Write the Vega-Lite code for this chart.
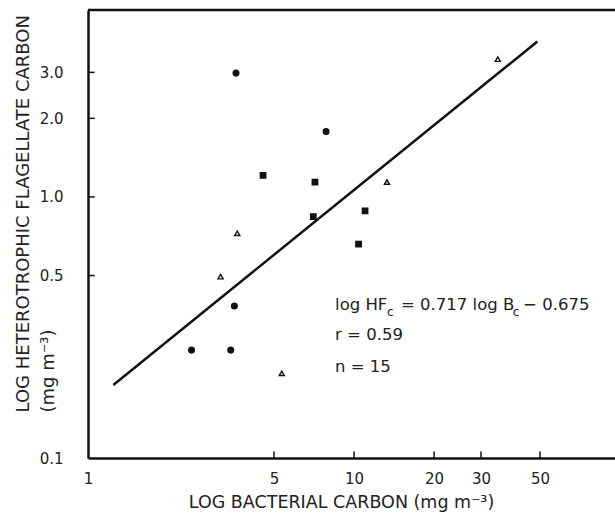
{
  "$schema": "https://vega.github.io/schema/vega-lite/v6.json",
  "width": 527,
  "height": 448,
  "autosize": {"type": "none"},
  "padding": {"left": 88, "top": 10, "right": 0, "bottom": 55},
  "background": "white",
  "config": {
    "view": {"stroke": null},
    "axis": {
      "grid": false,
      "ticks": false,
      "domainColor": "#111111",
      "domainWidth": 2.5,
      "labelColor": "#222222",
      "titleColor": "#222222",
      "labelFont": "DejaVu Sans",
      "titleFont": "DejaVu Sans",
      "titleFontWeight": "normal",
      "labelFontSize": 15,
      "titleFontSize": 17.5,
      "labelFlush": false,
      "labelOverlap": false
    },
    "text": {"font": "DejaVu Sans", "color": "#222222"}
  },
  "datasets": {
    "points": [
      {"group": "circle", "bacterialC": 3.60, "flagellateC": 2.98},
      {"group": "circle", "bacterialC": 7.85, "flagellateC": 1.78},
      {"group": "circle", "bacterialC": 3.55, "flagellateC": 0.382},
      {"group": "circle", "bacterialC": 2.45, "flagellateC": 0.259},
      {"group": "circle", "bacterialC": 3.44, "flagellateC": 0.259},
      {"group": "square", "bacterialC": 4.55, "flagellateC": 1.21},
      {"group": "square", "bacterialC": 7.13, "flagellateC": 1.14},
      {"group": "square", "bacterialC": 7.03, "flagellateC": 0.84},
      {"group": "square", "bacterialC": 11.0, "flagellateC": 0.884},
      {"group": "square", "bacterialC": 10.4, "flagellateC": 0.659},
      {"group": "triangle", "bacterialC": 34.7, "flagellateC": 3.37},
      {"group": "triangle", "bacterialC": 13.3, "flagellateC": 1.14},
      {"group": "triangle", "bacterialC": 3.64, "flagellateC": 0.726},
      {"group": "triangle", "bacterialC": 3.15, "flagellateC": 0.495},
      {"group": "triangle", "bacterialC": 5.35, "flagellateC": 0.211}
    ],
    "fit": [
      {"bacterialC": 1.245, "flagellateC": 0.1905},
      {"bacterialC": 48.9, "flagellateC": 3.94}
    ],
    "xticks": [{"v": 5}, {"v": 10}, {"v": 20}, {"v": 30}, {"v": 50}],
    "yticks": [{"v": 0.5}, {"v": 1}, {"v": 2}, {"v": 3}]
  },
  "layer": [
    {
      "data": {"name": "points"},
      "mark": {"type": "point", "stroke": "#111111", "strokeWidth": 1.4, "opacity": 1},
      "encoding": {
        "x": {
          "field": "bacterialC",
          "type": "quantitative",
          "scale": {"type": "log", "domain": [1, 95.7], "nice": false},
          "axis": {
            "values": [1, 5, 10, 20, 30, 50],
            "format": "d",
            "labelPadding": 13,
            "labelBaseline": "top",
            "title": "LOG BACTERIAL CARBON (mg m⁻³)",
            "titleX": 253,
            "titleY": 49,
            "titleBaseline": "alphabetic",
            "titleAlign": "center"
          }
        },
        "y": {
          "field": "flagellateC",
          "type": "quantitative",
          "scale": {"type": "log", "domain": [0.1, 5.2], "nice": false},
          "axis": {
            "values": [0.1, 0.5, 1, 2, 3],
            "format": ".1f",
            "labelPadding": 25,
            "title": ["LOG HETEROTROPHIC FLAGELLATE CARBON", "(mg m⁻³)"],
            "titleFontSize": 18,
            "titleAngle": 270,
            "titleAlign": "left",
            "titleBaseline": "top",
            "titleX": -74,
            "titleY": 402,
            "titleLineHeight": 25
          }
        },
        "shape": {
          "field": "group",
          "type": "nominal",
          "scale": {"domain": ["circle", "square", "triangle"], "range": ["circle", "square", "triangle-up"]},
          "legend": null
        },
        "fill": {
          "field": "group",
          "type": "nominal",
          "scale": {"domain": ["circle", "square", "triangle"], "range": ["#111111", "#111111", "#ffffff"]},
          "legend": null
        },
        "size": {
          "field": "group",
          "type": "ordinal",
          "scale": {"domain": ["circle", "square", "triangle"], "range": [32, 26, 44]},
          "legend": null
        }
      }
    },
    {
      "data": {"name": "fit"},
      "mark": {"type": "line", "color": "#111111", "strokeWidth": 2.5},
      "encoding": {
        "x": {"field": "bacterialC", "type": "quantitative"},
        "y": {"field": "flagellateC", "type": "quantitative"}
      }
    },
    {
      "data": {"name": "xticks"},
      "mark": {"type": "rule", "color": "#111111", "strokeWidth": 1.5},
      "encoding": {
        "x": {"field": "v", "type": "quantitative"},
        "y": {"datum": 0.1, "type": "quantitative"},
        "y2": {"datum": 0.106}
      }
    },
    {
      "data": {"name": "yticks"},
      "mark": {"type": "rule", "color": "#111111", "strokeWidth": 1.5},
      "encoding": {
        "y": {"field": "v", "type": "quantitative"},
        "x": {"datum": 1, "type": "quantitative"},
        "x2": {"datum": 1.06}
      }
    },
    {
      "data": {"values": [{"edge": "top"}]},
      "mark": {"type": "rule", "color": "#111111", "strokeWidth": 2.5},
      "encoding": {
        "y": {"datum": 5.2, "type": "quantitative"}
      }
    },
    {
      "data": {"values": [{"label": "log HF"}]},
      "mark": {"type": "text", "align": "left", "baseline": "alphabetic", "fontSize": 16.5},
      "encoding": {
        "x": {"datum": 8.485, "type": "quantitative"},
        "y": {"datum": 0.369, "type": "quantitative"},
        "text": {"field": "label"}
      }
    },
    {
      "data": {"values": [{"label": "c"}]},
      "mark": {"type": "text", "align": "left", "baseline": "alphabetic", "fontSize": 12},
      "encoding": {
        "x": {"datum": 13.3, "type": "quantitative"},
        "y": {"datum": 0.35, "type": "quantitative"},
        "text": {"field": "label"}
      }
    },
    {
      "data": {"values": [{"label": "= 0.717 log B"}]},
      "mark": {"type": "text", "align": "left", "baseline": "alphabetic", "fontSize": 16.5},
      "encoding": {
        "x": {"datum": 15.02, "type": "quantitative"},
        "y": {"datum": 0.369, "type": "quantitative"},
        "text": {"field": "label"}
      }
    },
    {
      "data": {"values": [{"label": "c"}]},
      "mark": {"type": "text", "align": "left", "baseline": "alphabetic", "fontSize": 12},
      "encoding": {
        "x": {"datum": 39.5, "type": "quantitative"},
        "y": {"datum": 0.35, "type": "quantitative"},
        "text": {"field": "label"}
      }
    },
    {
      "data": {"values": [{"label": "− 0.675"}]},
      "mark": {"type": "text", "align": "left", "baseline": "alphabetic", "fontSize": 16.5},
      "encoding": {
        "x": {"datum": 43.2, "type": "quantitative"},
        "y": {"datum": 0.369, "type": "quantitative"},
        "text": {"field": "label"}
      }
    },
    {
      "data": {"values": [{"label": "r = 0.59"}]},
      "mark": {"type": "text", "align": "left", "baseline": "alphabetic", "fontSize": 16.5},
      "encoding": {
        "x": {"datum": 8.485, "type": "quantitative"},
        "y": {"datum": 0.2832, "type": "quantitative"},
        "text": {"field": "label"}
      }
    },
    {
      "data": {"values": [{"label": "n = 15"}]},
      "mark": {"type": "text", "align": "left", "baseline": "alphabetic", "fontSize": 16.5},
      "encoding": {
        "x": {"datum": 8.485, "type": "quantitative"},
        "y": {"datum": 0.2136, "type": "quantitative"},
        "text": {"field": "label"}
      }
    }
  ]
}
